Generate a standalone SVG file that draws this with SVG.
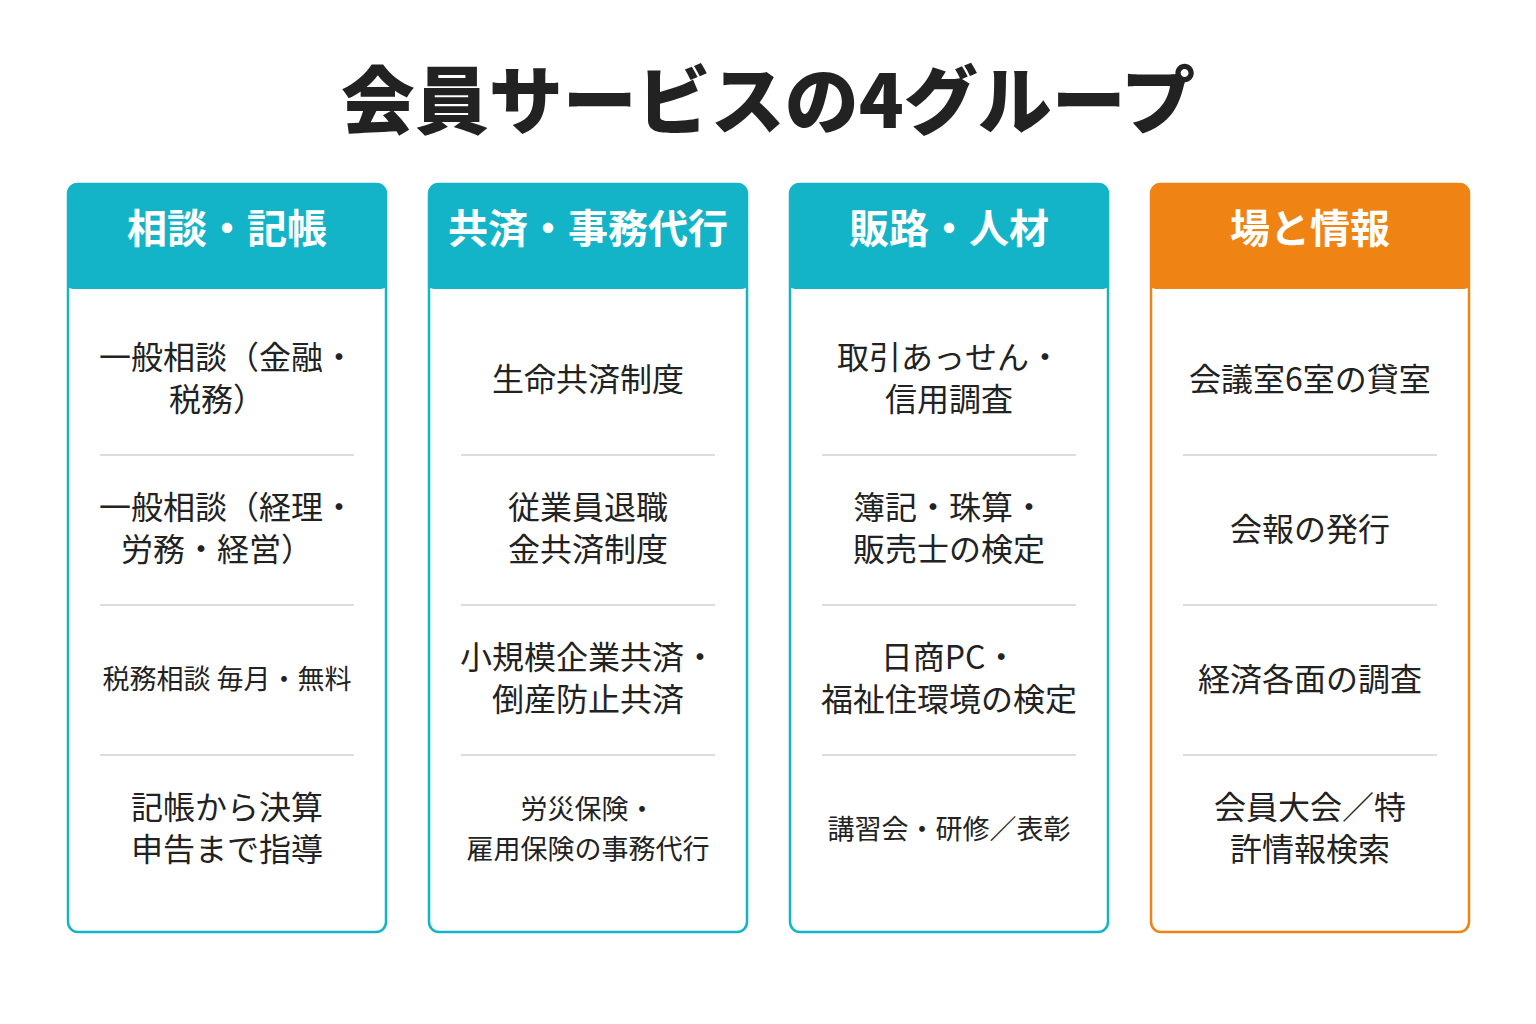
<svg xmlns="http://www.w3.org/2000/svg" width="1536" height="1024" viewBox="0 0 1536 1024">
<style>
text{font-family:"Noto Sans CJK JP","Noto Sans",sans-serif;text-anchor:middle;fill:#222}
.t{font-size:74px;font-weight:900}
.h{font-size:40px;font-weight:700;fill:#fff}
.c{font-size:32px}
.s{font-size:27px}
.sep{stroke:#ddd;stroke-width:2}
</style>
<rect width="1536" height="1024" fill="#fff"/>
<text class="t" x="768" y="128">会員サービスの4グループ</text>
<g id="col1" transform="translate(67,183)">
<rect x="1" y="1" width="318" height="748" rx="10" fill="#fff" stroke="#14B4C8" stroke-width="2.5"/>
<path d="M0 10a10 10 0 0 1 10-10h300a10 10 0 0 1 10 10v90a6 6 0 0 1-6 6h-308a6 6 0 0 1-6-6z" fill="#14B4C8"/>
<text class="h" x="160" y="60">相談・記帳</text>
<line class="sep" x1="33" y1="272" x2="287" y2="272"/><line class="sep" x1="33" y1="422" x2="287" y2="422"/><line class="sep" x1="33" y1="572" x2="287" y2="572"/>
<text class="c" x="160" y="186">一般相談（金融・</text><text class="c" x="150" y="228">税務）</text>
<text class="c" x="160" y="336">一般相談（経理・</text><text class="c" x="150" y="378">労務・経営）</text>
<text class="s" x="160" y="506">税務相談 毎月・無料</text>
<text class="c" x="160" y="636">記帳から決算</text><text class="c" x="160" y="678">申告まで指導</text>
</g>
<g id="col2" transform="translate(428,183)">
<rect x="1" y="1" width="318" height="748" rx="10" fill="#fff" stroke="#14B4C8" stroke-width="2.5"/>
<path d="M0 10a10 10 0 0 1 10-10h300a10 10 0 0 1 10 10v90a6 6 0 0 1-6 6h-308a6 6 0 0 1-6-6z" fill="#14B4C8"/>
<text class="h" x="160" y="60">共済・事務代行</text>
<line class="sep" x1="33" y1="272" x2="287" y2="272"/><line class="sep" x1="33" y1="422" x2="287" y2="422"/><line class="sep" x1="33" y1="572" x2="287" y2="572"/>
<text class="c" x="160" y="208">生命共済制度</text>
<text class="c" x="160" y="336">従業員退職</text><text class="c" x="160" y="378">金共済制度</text>
<text class="c" x="160" y="486">小規模企業共済・</text><text class="c" x="160" y="528">倒産防止共済</text>
<text class="s" x="160" y="636">労災保険・</text><text class="s" x="160" y="676">雇用保険の事務代行</text>
</g>
<g id="col3" transform="translate(789,183)">
<rect x="1" y="1" width="318" height="748" rx="10" fill="#fff" stroke="#14B4C8" stroke-width="2.5"/>
<path d="M0 10a10 10 0 0 1 10-10h300a10 10 0 0 1 10 10v90a6 6 0 0 1-6 6h-308a6 6 0 0 1-6-6z" fill="#14B4C8"/>
<text class="h" x="160" y="60">販路・人材</text>
<line class="sep" x1="33" y1="272" x2="287" y2="272"/><line class="sep" x1="33" y1="422" x2="287" y2="422"/><line class="sep" x1="33" y1="572" x2="287" y2="572"/>
<text class="c" x="160" y="186">取引あっせん・</text><text class="c" x="160" y="228">信用調査</text>
<text class="c" x="160" y="336">簿記・珠算・</text><text class="c" x="160" y="378">販売士の検定</text>
<text class="c" x="160" y="486">日商PC・</text><text class="c" x="160" y="528">福祉住環境の検定</text>
<text class="s" x="160" y="656">講習会・研修／表彰</text>
</g>
<g id="col4" transform="translate(1150,183)">
<rect x="1" y="1" width="318" height="748" rx="10" fill="#fff" stroke="#EF8414" stroke-width="2.5"/>
<path d="M0 10a10 10 0 0 1 10-10h300a10 10 0 0 1 10 10v90a6 6 0 0 1-6 6h-308a6 6 0 0 1-6-6z" fill="#EF8414"/>
<text class="h" x="160" y="60">場と情報</text>
<line class="sep" x1="33" y1="272" x2="287" y2="272"/><line class="sep" x1="33" y1="422" x2="287" y2="422"/><line class="sep" x1="33" y1="572" x2="287" y2="572"/>
<text class="c" x="160" y="208">会議室6室の貸室</text>
<text class="c" x="160" y="358">会報の発行</text>
<text class="c" x="160" y="508">経済各面の調査</text>
<text class="c" x="160" y="636">会員大会／特</text><text class="c" x="160" y="678">許情報検索</text>
</g>
<g id="connectors"/>
</svg>
